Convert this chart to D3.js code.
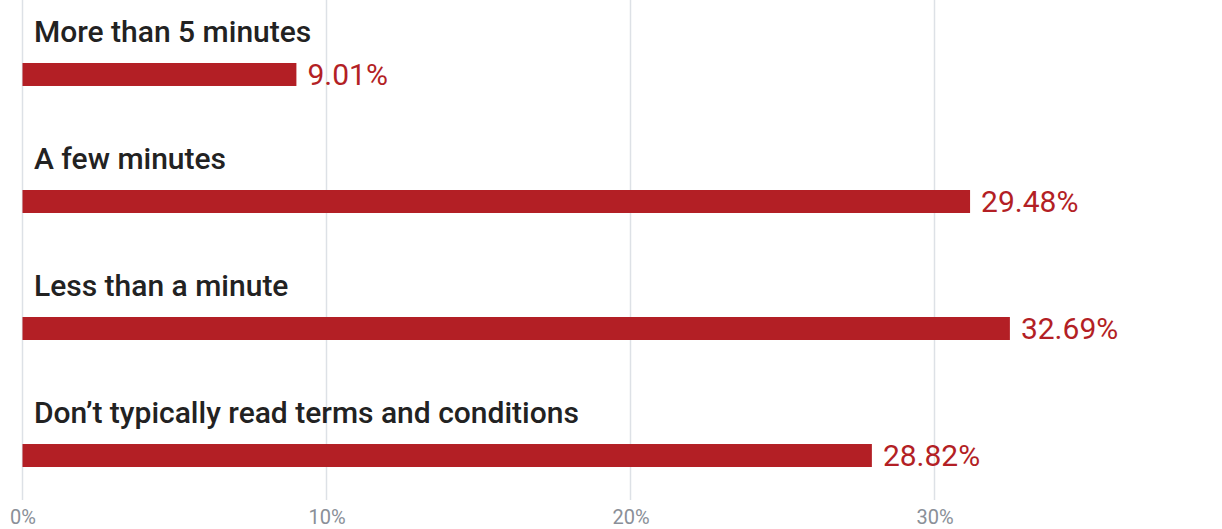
<!DOCTYPE html>
<meta charset="utf-8">
<html>
<head>
<script src="https://cdn.jsdelivr.net/npm/d3@7"></script>
<style>
  body { margin: 0; background: #fff; }
  .cat { font-family: Roboto, sans-serif; font-size: 30px; font-weight: 500; fill: #222; }
  .val { font-family: Roboto, sans-serif; font-size: 30px; fill: #b31f25; }
  .tick text { font-family: Roboto, sans-serif; font-size: 20px; fill: #8a8f98; }
  .grid line { stroke: #dde1e6; stroke-width: 1.5px; }
</style>
</head>
<body>
<svg width="1222" height="529"></svg>
<script>
// categories top to bottom
var categories = ["More than 5 minutes", "A few minutes", "Less than a minute", "Don\u2019t typically read terms and conditions"];
// bar lengths as drawn (percent)
var barValues = [9.01, 31.17, 32.48, 27.94];
// printed value labels
var valueLabels = ["9.01%", "29.48%", "32.69%", "28.82%"];
var tickValues = [0, 10, 20, 30];

var svg = d3.select("svg"),
    width = +svg.attr("width"),
    height = +svg.attr("height");

var x = d3.scaleLinear().domain([0, 39]).range([22.5, 22.5 + 39 * 30.4]);
var y = d3.scaleBand().domain(categories).range([0, 530]).paddingInner(0.819).paddingOuter(0.496);

// gridlines
svg.append("g").attr("class", "grid")
  .selectAll("line").data(tickValues).enter().append("line")
    .attr("x1", function(d) { return x(d); })
    .attr("x2", function(d) { return x(d); })
    .attr("y1", 0).attr("y2", 500);

// axis labels
var axis = svg.append("g").attr("class", "tick")
  .attr("transform", "translate(0,524)")
  .call(d3.axisBottom(x).tickValues(tickValues).tickSize(0).tickFormat(function(d) { return d + "%"; }));
axis.select(".domain").remove();
axis.selectAll("text").attr("y", 0).attr("dy", 0);

var rows = svg.append("g").selectAll("g").data(categories).enter().append("g");

rows.append("rect")
  .attr("x", x(0))
  .attr("y", function(d) { return y(d); })
  .attr("width", function(d, i) { return x(barValues[i]) - x(0); })
  .attr("height", y.bandwidth())
  .attr("fill", "#b31f25");

rows.append("text").attr("class", "cat")
  .attr("x", 34)
  .attr("y", function(d) { return y(d) - 21; })
  .text(function(d) { return d; });

rows.append("text").attr("class", "val")
  .attr("x", function(d, i) { return x(barValues[i]) + 11; })
  .attr("y", function(d) { return y(d) + y.bandwidth() / 2; })
  .attr("dy", "0.36em")
  .text(function(d, i) { return valueLabels[i]; });
</script>
</body>
</html>
